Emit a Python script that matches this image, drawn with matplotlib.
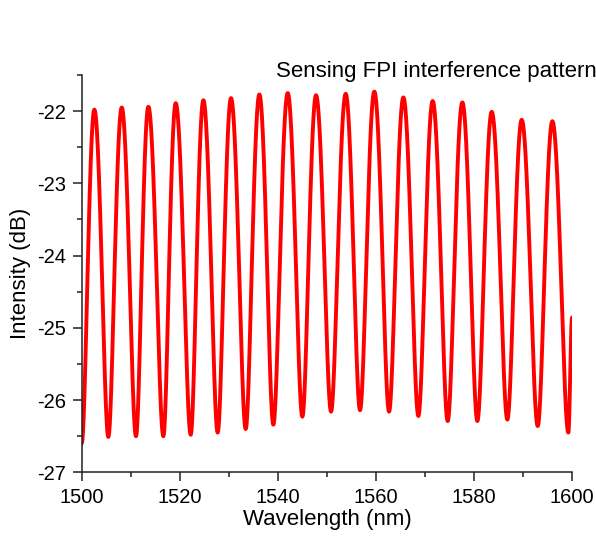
import numpy as np
import matplotlib
matplotlib.use("Agg")
import matplotlib.pyplot as plt
from matplotlib.ticker import MultipleLocator

# ---- data (extrema of the interference fringes) ----
start_wl, start_db = 1500.0, -26.60
peak_wl = [1502.58, 1508.16, 1513.59, 1519.17, 1524.81, 1530.45, 1536.23, 1542.01,
           1547.79, 1553.84, 1559.68, 1565.60, 1571.58, 1577.63, 1583.62, 1589.73, 1595.99]
peak_db = [-21.98, -21.95, -21.94, -21.89, -21.85, -21.82, -21.77, -21.75,
           -21.78, -21.76, -21.73, -21.81, -21.86, -21.88, -22.01, -22.12, -22.14]
trough_wl = [1505.43, 1511.07, 1516.65, 1522.23, 1527.73, 1533.44, 1539.08, 1545.00,
             1550.85, 1556.76, 1562.68, 1568.66, 1574.64, 1580.69, 1586.81, 1593.00, 1599.25]
trough_db = [-26.51, -26.50, -26.50, -26.48, -26.45, -26.40, -26.34, -26.23,
             -26.16, -26.14, -26.16, -26.22, -26.29, -26.29, -26.27, -26.36, -26.45]
end_wl, end_db = 1600.0, -24.86

x_ticks = [1500, 1520, 1540, 1560, 1580, 1600]
y_ticks = [-27, -26, -25, -24, -23, -22]

title_text = "Sensing FPI interference pattern"
x_label = "Wavelength (nm)"
y_label = "Intensity (dB)"

# ---- smooth fringe curve through the extrema ----
# half-cosine between neighbouring extrema, blended between dB and linear power
ext_wl = [start_wl]
ext_db = [start_db]
for pw, pd, tw, td in zip(peak_wl, peak_db, trough_wl, trough_db):
    ext_wl += [pw, tw]
    ext_db += [pd, td]
ext_wl.append(end_wl)
ext_db.append(end_db)

xs, ys = [], []
for i in range(len(ext_wl) - 1):
    t = np.linspace(0, 1, 80, endpoint=False)
    s = (1 - np.cos(np.pi * t)) / 2
    y_db = ext_db[i] + (ext_db[i + 1] - ext_db[i]) * s
    p0, p1 = 10 ** (ext_db[i] / 10), 10 ** (ext_db[i + 1] / 10)
    y_lin = 10 * np.log10(p0 + (p1 - p0) * s)
    xs.append(ext_wl[i] + (ext_wl[i + 1] - ext_wl[i]) * t)
    ys.append(0.5 * y_db + 0.5 * y_lin)
xs.append([ext_wl[-1]])
ys.append([ext_db[-1]])
xs = np.concatenate(xs)
ys = np.concatenate(ys)

# ---- figure ----
plt.rcParams['font.family'] = ['Liberation Sans', 'DejaVu Sans']
plt.rcParams['axes.unicode_minus'] = False

fig = plt.figure(figsize=(5.96, 5.38), dpi=100)
ax = fig.add_axes([0.1371, 0.1221, 0.8227, 0.7385])

ax.plot(xs, ys, color='#ff0000', lw=2.8, solid_joinstyle='round')

ax.set_xlim(1500, 1600)
ax.set_ylim(-27, -21.5)
ax.set_xticks(x_ticks)
ax.set_yticks(y_ticks)
ax.xaxis.set_minor_locator(MultipleLocator(10))
ax.yaxis.set_minor_locator(MultipleLocator(0.5))

for side in ('top', 'right'):
    ax.spines[side].set_visible(False)
for side in ('left', 'bottom'):
    ax.spines[side].set_linewidth(1.1)
    ax.spines[side].set_color('#222222')

ax.tick_params(which='major', direction='out', length=6.5, width=1.1,
               labelsize=14.5, pad=4.5, color='#222222')
ax.tick_params(which='minor', direction='out', length=3.5, width=1.1, color='#222222')

ax.set_xlabel(x_label, fontsize=16)
ax.set_ylabel(y_label, fontsize=16)
ax.xaxis.set_label_coords(0.5, -0.093)
ax.yaxis.set_label_coords(-0.103, 0.5)

fig.text(276.0 / 596, 1 - 72 / 538, title_text, fontsize=16,
         ha='left', va='center')

fig.savefig("out.png", dpi=100)
